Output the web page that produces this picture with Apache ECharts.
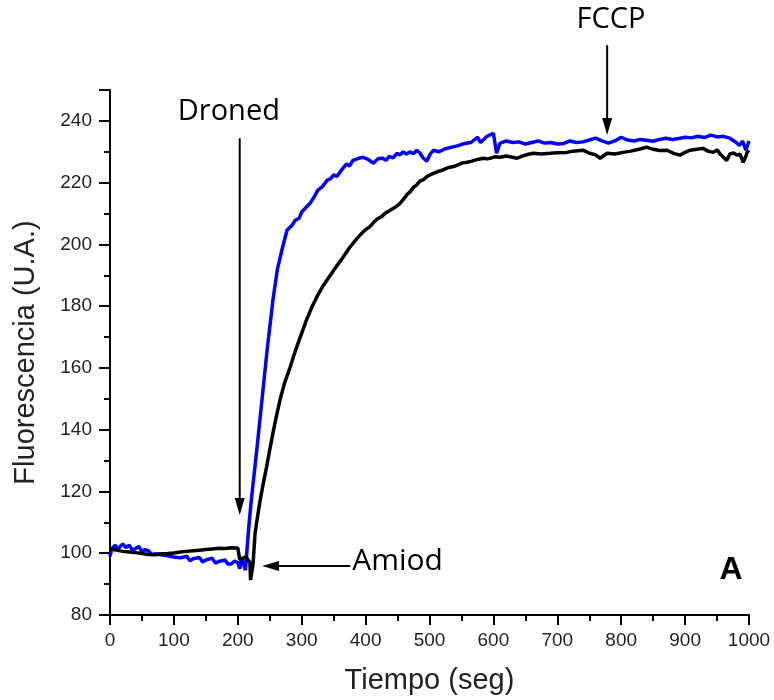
<!DOCTYPE html>
<html>
<head>
<meta charset="utf-8">
<script src="https://cdn.jsdelivr.net/npm/echarts@6/dist/echarts.min.js"></script>
<style>
  html, body { margin: 0; padding: 0; background: #fff; }
  #chart { width: 774px; height: 700px; }
</style>
</head>
<body>
<div id="chart"></div>
<script>
  // curva azul
  var blueTime = [0, 3, 8, 12, 15, 20, 25, 30, 35, 40, 45, 50, 55, 60, 65, 70, 80, 90, 100, 110,
    120, 125, 130, 140, 145, 150, 160, 165, 170, 180, 185, 190, 195, 200, 203, 206, 209, 212, 214, 217,
    221, 230, 238, 246, 255, 262, 270, 277, 284, 290, 296, 300, 306, 313, 319, 325, 332, 340, 345, 350,
    355, 360, 365, 370, 375, 380, 388, 396, 404, 412, 420, 427, 432, 437, 443, 449, 454, 459, 464, 469,
    475, 480, 485, 490, 496, 501, 506, 515, 525, 535, 545, 555, 565, 575, 580, 590, 600, 605, 610, 620,
    630, 640, 650, 660, 670, 680, 690, 700, 710, 720, 730, 740, 750, 760, 770, 780, 790, 800, 810, 820,
    830, 840, 850, 860, 870, 880, 890, 900, 910, 920, 930, 940, 950, 960, 970, 980, 985, 990, 995, 1000];
  var blueValue = [99.0, 101.5, 102.6, 101.2, 102.0, 103.0, 101.8, 102.6, 101.0, 101.5, 102.2, 100.5, 101.2, 100.8, 99.6, 99.8, 99.5, 99.2, 98.8, 98.5,
    99.0, 97.6, 98.2, 98.6, 97.2, 97.8, 98.4, 96.8, 97.3, 97.8, 96.4, 96.6, 97.5, 97.0, 95.0, 98.5, 96.5, 94.5, 100, 108,
    117, 134, 150, 166, 182, 192, 199, 204.6, 206.0, 207.8, 208.5, 210.5, 211.8, 213.3, 215.2, 217.5, 218.6, 220.8, 221.2, 222.5,
    222.0, 223.4, 224.8, 226.0, 225.4, 227.2, 227.8, 228.2, 227.5, 226.3, 227.8, 227.9, 227.2, 228.5, 228.0, 229.5, 229.0, 230.0, 229.2, 230.0,
    229.4, 230.5, 229.6, 228.0, 227.0, 229.2, 230.5, 230.0, 231.0, 231.5, 232.0, 232.7, 233.0, 234.7, 233.0, 235.0, 236.0, 229.5, 232.7, 233.5,
    233.0, 233.2, 232.5, 233.0, 233.5, 232.8, 233.0, 232.5, 232.7, 233.5, 233.0, 233.2, 233.8, 234.4, 233.5, 232.8, 233.5, 234.7, 233.8, 233.5,
    234.0, 233.7, 233.4, 234.0, 234.4, 234.0, 234.3, 234.7, 234.5, 235.0, 234.6, 235.4, 234.8, 235.0, 234.4, 233.0, 232.0, 233.5, 230.5, 233.5];

  // curva negra
  var blackTime = [0, 10, 20, 30, 40, 50, 60, 70, 80, 90, 100, 110, 120, 130, 140, 150, 160, 170, 180, 190,
    200, 202, 203, 208, 213, 216, 219, 220, 222, 224, 227, 231, 235, 240, 245, 250, 255, 260, 266, 273,
    282, 290, 300, 308, 316, 325, 334, 344, 354, 365, 375, 386, 393, 400, 406, 412, 418, 425, 432, 438,
    446, 454, 460, 465, 470, 475, 480, 485, 490, 495, 500, 506, 513, 520, 526, 532, 538, 545, 552, 559,
    565, 570, 577, 584, 590, 597, 603, 610, 620, 630, 637, 645, 655, 662, 675, 689, 700, 715, 725, 740,
    751, 760, 767, 773, 778, 790, 803, 815, 828, 840, 850, 860, 872, 882, 892, 900, 908, 918, 928, 936,
    944, 950, 956, 960, 965, 970, 976, 981, 986, 991, 995, 997, 1000];
  var blackValue = [101.4, 101.0, 100.6, 100.4, 100.2, 99.9, 99.6, 99.5, 99.8, 99.9, 100.1, 100.4, 100.6, 100.8, 101.0, 101.2, 101.4, 101.6, 101.5, 101.8,
    101.7, 101.5, 98.0, 98.4, 98.8, 98.2, 97.0, 91.3, 94.0, 96.8, 106.5, 112.0, 117.2, 122.8, 127.9, 133.5, 138.9, 144.0, 149.6, 155.0,
    160.3, 165.5, 171.3, 175.8, 179.7, 183.5, 186.8, 189.8, 192.8, 195.9, 199.0, 201.8, 203.4, 204.8, 205.6, 207.0, 208.2, 209.0, 210.3, 211.0,
    212.0, 213.3, 214.8, 216.2, 217.1, 218.5, 219.3, 220.5, 220.9, 221.8, 222.4, 223.0, 223.6, 224.0, 224.6, 225.0, 225.2, 225.8, 226.4, 226.6,
    226.9, 227.2, 227.6, 227.9, 227.7, 228.0, 228.4, 228.2, 228.6, 228.2, 227.9, 228.6, 229.2, 229.5, 229.3, 229.5, 229.7, 229.8, 230.2, 230.5,
    229.5, 229.0, 227.9, 228.8, 229.5, 229.3, 229.8, 230.2, 230.8, 231.5, 230.8, 230.4, 230.5, 229.5, 228.9, 229.8, 230.5, 230.8, 231.1, 230.2,
    229.8, 230.6, 229.0, 228.2, 227.2, 229.3, 229.6, 228.9, 229.2, 226.6, 228.5, 229.8, 230.5];

  // anotaciones (coordenadas en unidades de datos)
  var arrows = [
    { from: [203, 234.4], to: [203, 112.4] },   // Droned
    { from: [778, 264.5], to: [778, 235.4] },   // FCCP
    { from: [376, 95.9], to: [238, 95.9] }      // Amiod
  ];
  var labels = [
    { text: 'Droned', at: [186, 243.0], align: 'center', size: 29, bold: false },
    { text: 'FCCP', at: [784, 272.6], align: 'center', size: 29, bold: false },
    { text: 'Amiod', at: [379, 97.2], align: 'left', size: 30, bold: false },
    { text: 'A', at: [972, 94.6], align: 'center', size: 32, bold: true }
  ];

  function zip(t, v) {
    var out = [];
    for (var i = 0; i < t.length; i++) out.push([t[i], v[i]]);
    return out;
  }

  var myChart = echarts.init(document.getElementById('chart'));
  var axisFont = 'Liberation Sans, Arial, sans-serif';

  var option = {
    backgroundColor: '#fff',
    animation: false,
    grid: { left: 110, right: 25, top: 90, bottom: 85 },
    xAxis: {
      type: 'value',
      min: 0, max: 1000, interval: 100,
      name: 'Tiempo (seg)',
      nameLocation: 'middle',
      nameGap: 51,
      nameTextStyle: { fontSize: 29, color: '#222', fontFamily: axisFont },
      axisLine: { lineStyle: { color: '#000', width: 2 } },
      axisTick: { length: 10, lineStyle: { width: 2, color: '#000' } },
      minorTick: { show: true, splitNumber: 2, length: 6, lineStyle: { width: 2, color: '#000' } },
      splitLine: { show: false },
      axisLabel: { fontSize: 19, color: '#222', margin: 16, fontFamily: axisFont,
        formatter: function (v) { return String(v); } }
    },
    yAxis: {
      type: 'value',
      min: 80, max: 250, interval: 20,
      name: 'Fluorescencia (U.A.)',
      nameLocation: 'middle',
      nameGap: 70,
      nameTextStyle: { fontSize: 29, color: '#222', fontFamily: axisFont },
      axisLine: { show: true, lineStyle: { color: '#000', width: 2 } },
      axisTick: { show: true, length: 11, lineStyle: { width: 2, color: '#000' } },
      minorTick: { show: true, splitNumber: 2, length: 6, lineStyle: { width: 2, color: '#000' } },
      splitLine: { show: false },
      axisLabel: { fontSize: 19, color: '#222', margin: 18, fontFamily: axisFont, showMaxLabel: false }
    },
    series: [
      {
        type: 'line',
        name: 'azul',
        data: zip(blueTime, blueValue),
        showSymbol: false,
        lineStyle: { color: '#0000ff', width: 3.5 },
        z: 2
      },
      {
        type: 'line',
        name: 'negro',
        data: zip(blackTime, blackValue),
        showSymbol: false,
        lineStyle: { color: '#000', width: 3.5 },
        z: 3
      }
    ]
  };
  myChart.setOption(option);

  // flechas y textos a partir de coordenadas de datos
  function arrowGraphic(a) {
    var p0 = myChart.convertToPixel({ gridIndex: 0 }, a.from);
    var p1 = myChart.convertToPixel({ gridIndex: 0 }, a.to);
    var dx = p1[0] - p0[0], dy = p1[1] - p0[1];
    var len = Math.sqrt(dx * dx + dy * dy);
    var ux = dx / len, uy = dy / len;
    var hl = 17, hw = 5;
    var bx = p1[0] - ux * hl, by = p1[1] - uy * hl;
    return [
      { type: 'line', shape: { x1: p0[0], y1: p0[1], x2: bx, y2: by }, style: { stroke: '#000', lineWidth: 2 }, z: 10 },
      { type: 'polygon', shape: { points: [[p1[0], p1[1]], [bx - uy * hw, by + ux * hw], [bx + uy * hw, by - ux * hw]] }, style: { fill: '#000' }, z: 10 }
    ];
  }
  var graphics = [];
  arrows.forEach(function (a) { graphics = graphics.concat(arrowGraphic(a)); });
  labels.forEach(function (l) {
    var p = myChart.convertToPixel({ gridIndex: 0 }, l.at);
    graphics.push({
      type: 'text', x: p[0], y: p[1], z: 10,
      style: {
        text: l.text,
        fill: '#000',
        fontSize: l.size,
        fontWeight: l.bold ? 'bold' : 'normal',
        fontFamily: l.bold ? axisFont : 'Open Sans, DejaVu Sans, sans-serif',
        textAlign: l.align,
        textVerticalAlign: 'middle'
      }
    });
  });
  myChart.setOption({ graphic: graphics });
  window.addEventListener('resize', myChart.resize);
</script>
</body>
</html>
